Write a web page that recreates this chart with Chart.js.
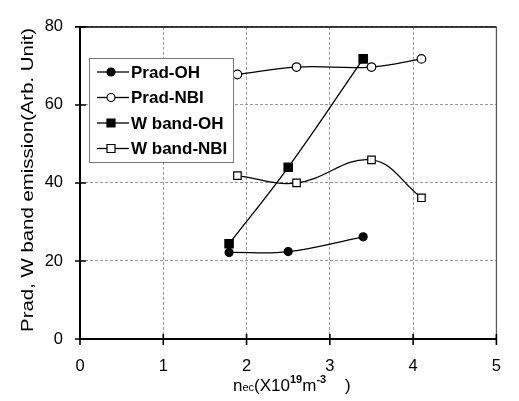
<!DOCTYPE html>
<html>
<head>
<script src="https://cdn.jsdelivr.net/npm/chart.js"></script>
<style>body{margin:0;background:#fff}</style>
</head>
<body>
<canvas id="c" width="519" height="401"></canvas>
<script>
// values
const xTicks = [0, 1, 2, 3, 4, 5];
const yTicks = [0, 20, 40, 60, 80];
const seriesNames = ['Prad-OH', 'Prad-NBI', 'W band-OH', 'W band-NBI'];
const pradOhX = [1.79, 2.50, 3.40];
const pradOhY = [22.2, 22.4, 26.2];
const pradNbiX = [1.89, 2.60, 3.50, 4.10];
const pradNbiY = [67.8, 69.7, 69.7, 71.8];
const wOhX = [1.79, 2.50, 3.40];
const wOhY = [24.4, 44.0, 71.8];
const wNbiX = [1.89, 2.60, 3.50, 4.10];
const wNbiY = [41.9, 40.0, 45.9, 36.2];

const FONT = "'Liberation Sans', Arial, sans-serif";
const pts = (xs, ys) => xs.map((x, i) => ({x: x, y: ys[i]}));

function ds(label, data, style, fill, r) {
  return {
    label: label, data: data,
    borderColor: '#000', borderWidth: 1.3,
    pointStyle: style, pointRadius: r, pointHoverRadius: r,
    pointBackgroundColor: fill, pointBorderColor: '#000', pointBorderWidth: 1.2,
    tension: 0.4, fill: false
  };
}

// frame, axis ticks, legend box and axis titles
const extras = {
  id: 'extras',
  beforeDatasetsDraw(chart) {
    const {ctx, chartArea: a, scales: {x, y}} = chart;
    ctx.save();
    ctx.strokeStyle = '#000';
    ctx.lineWidth = 1.5;
    ctx.beginPath(); ctx.moveTo(a.left, a.top); ctx.lineTo(a.right, a.top); ctx.stroke();
    ctx.strokeStyle = '#555';
    ctx.lineWidth = 1.2;
    ctx.beginPath(); ctx.moveTo(a.right, a.top); ctx.lineTo(a.right, a.bottom); ctx.stroke();
    ctx.strokeStyle = '#000';
    ctx.lineWidth = 2;
    ctx.beginPath();
    ctx.moveTo(a.left, a.top); ctx.lineTo(a.left, a.bottom); ctx.lineTo(a.right, a.bottom);
    ctx.stroke();
    ctx.lineWidth = 1.6;
    ctx.beginPath();
    yTicks.forEach(v => { const p = y.getPixelForValue(v); ctx.moveTo(a.left - 5, p); ctx.lineTo(a.left + 6, p); });
    xTicks.forEach(v => { const p = x.getPixelForValue(v); ctx.moveTo(p, a.bottom - 5); ctx.lineTo(p, a.bottom + 6); });
    ctx.stroke();
    ctx.restore();
  },
  afterDraw(chart) {
    const {ctx} = chart;
    ctx.save();
    // legend
    const bx = 89, by = 58, bw = 144, bh = 104;
    ctx.fillStyle = '#fff';
    ctx.fillRect(bx, by, bw, bh);
    ctx.strokeStyle = '#777';
    ctx.lineWidth = 1;
    ctx.strokeRect(bx + 0.5, by + 0.5, bw, bh);
    ctx.font = 'bold 17px ' + FONT;
    ctx.textBaseline = 'middle';
    chart.data.datasets.forEach((d, i) => {
      const ry = 72 + i * 25.5;
      ctx.strokeStyle = '#000';
      ctx.lineWidth = 1.3;
      ctx.beginPath(); ctx.moveTo(97, ry); ctx.lineTo(129, ry); ctx.stroke();
      ctx.fillStyle = d.pointBackgroundColor;
      ctx.lineWidth = 1.2;
      ctx.beginPath();
      if (d.pointStyle === 'circle') ctx.arc(111, ry, 4, 0, Math.PI * 2);
      else ctx.rect(107, ry - 4, 8, 8);
      ctx.fill(); ctx.stroke();
      ctx.fillStyle = '#000';
      ctx.fillText(d.label, 131, ry + 1);
    });
    // y title (stretched like the scan)
    ctx.save();
    ctx.translate(32.5, 180);
    ctx.rotate(-Math.PI / 2);
    ctx.scale(1.2, 1);
    ctx.font = '17px ' + FONT;
    ctx.textAlign = 'center';
    ctx.textBaseline = 'alphabetic';
    ctx.fillText('Prad, W band emission(Arb. Unit)', 0, 0);
    ctx.restore();
    // x title with sub/superscripts
    const parts = [
      ['n', '17px', 0], ['ec', '11px', 0], ['(X10', '17px', 0], ['19', 'bold 11px', -8],
      ['m', '17px', 0], ['-3', 'bold 11px', -8], ['    )', '17px', 0]
    ];
    let tx = 233;
    const base = 391;
    ctx.textBaseline = 'alphabetic';
    ctx.textAlign = 'left';
    parts.forEach(p => {
      ctx.font = p[1] + ' ' + FONT;
      ctx.fillText(p[0], tx, base + p[2]);
      tx += ctx.measureText(p[0]).width;
    });
    ctx.restore();
  }
};

new Chart(document.getElementById('c'), {
  type: 'line',
  data: {
    datasets: [
      ds(seriesNames[0], pts(pradOhX, pradOhY), 'circle', '#000', 4),
      ds(seriesNames[1], pts(pradNbiX, pradNbiY), 'circle', '#fff', 4.3),
      ds(seriesNames[2], pts(wOhX, wOhY), 'rect', '#000', 5.9),
      ds(seriesNames[3], pts(wNbiX, wNbiY), 'rect', '#fff', 5.3)
    ]
  },
  options: {
    responsive: false,
    animation: false,
    layout: {padding: {top: 18, right: 11, left: 0, bottom: 0}},
    plugins: {legend: {display: false}, tooltip: {enabled: false}},
    scales: {
      x: {
        type: 'linear', min: 0, max: 5,
        afterBuildTicks: s => { s.ticks = xTicks.map(v => ({value: v})); },
        afterFit: s => { s.height = 62; },
        ticks: {color: '#000', font: {family: FONT, size: 16.5}, padding: 18},
        grid: {color: '#999', drawTicks: false, lineWidth: 1},
        border: {display: false, dash: [3, 2]}
      },
      y: {
        min: 0, max: 80,
        afterBuildTicks: s => { s.ticks = yTicks.map(v => ({value: v})); },
        afterFit: s => { s.width = 80; },
        ticks: {color: '#000', font: {family: FONT, size: 16.5}, padding: 17},
        grid: {color: '#999', drawTicks: false, lineWidth: 1},
        border: {display: false, dash: [3, 2]}
      }
    }
  },
  plugins: [extras]
});
</script>
</body>
</html>
